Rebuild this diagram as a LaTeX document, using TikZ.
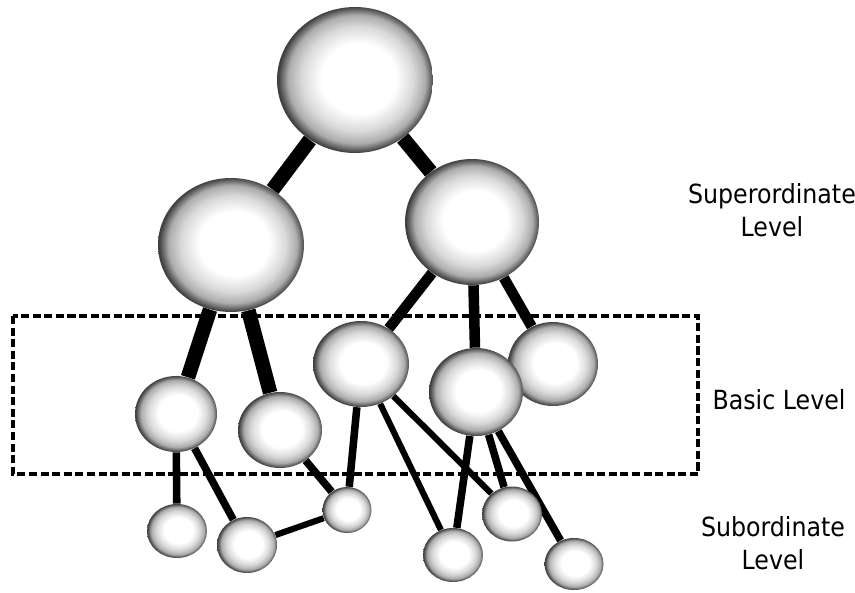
\documentclass[tikz,border=0pt]{standalone}
\usepackage{fontspec}
\setmainfont{DejaVu Sans Condensed}
\usetikzlibrary{shapes.geometric, backgrounds}

\pgfdeclareradialshading{sphere}{\pgfpoint{2bp}{1bp}}{%
  color(0bp)=(white); color(12bp)=(white); color(18bp)=(gray!30);
  color(22bp)=(gray!65); color(25bp)=(black!75); color(30bp)=(black!75)}

\begin{document}
\begin{tikzpicture}[
    x=0.02cm, y=-0.02cm,
    ball/.style={ellipse, inner sep=0pt, shading=sphere},
    heavy/.style={line width=8.3pt},
    medium/.style={line width=6pt},
    light/.style={line width=4.3pt},
    fine/.style={line width=3.5pt},
    levelbox/.style={line width=2.2pt, dash pattern=on 4.6pt off 2pt},
    levellabel/.style={align=center, font=\fontsize{15}{19}\selectfont}
]
\useasboundingbox (0,0) rectangle (855,592);

% Nodes
\node[ball, minimum width=3.12cm, minimum height=2.92cm] (top) at (355,80) {};

\node[ball, minimum width=2.92cm, minimum height=2.68cm] (lsup) at (231,245) {};
\node[ball, minimum width=2.68cm, minimum height=2.52cm] (rsup) at (472,222) {};

\node[ball, minimum width=1.64cm, minimum height=1.52cm] (b1) at (176,414) {};
\node[ball, minimum width=1.68cm, minimum height=1.52cm] (b2) at (280,430) {};
\node[ball, minimum width=1.92cm, minimum height=1.72cm] (b3) at (361,364) {};
\node[ball, minimum width=1.80cm, minimum height=1.68cm] (b5) at (553,364) {};
\node[ball, minimum width=1.88cm, minimum height=1.76cm] (b4) at (476,392) {};

\node[ball, minimum width=1.20cm, minimum height=1.08cm] (s1) at (177,531) {};
\node[ball, minimum width=1.20cm, minimum height=1.12cm] (s2) at (247,545) {};
\node[ball, minimum width=0.98cm, minimum height=0.92cm] (s3) at (347,510) {};
\node[ball, minimum width=1.20cm, minimum height=1.08cm] (s4) at (453,555) {};
\node[ball, minimum width=1.20cm, minimum height=1.10cm] (s5) at (512,514) {};
\node[ball, minimum width=1.18cm, minimum height=1.04cm] (s6) at (574,564) {};

% Level labels
\node[levellabel] (superlabel) at (772,210) {Superordinate\\Level};
\node[levellabel] (basiclabel) at (779,400) {Basic Level};
\node[levellabel] (sublabel) at (773,543) {Subordinate\\Level};

% Basic level box
\draw[levelbox] (13,316) rectangle (698,474);

% Links
\begin{pgfonlayer}{background}
\draw[heavy] (top) -- (lsup);
\draw[heavy] (top) -- (rsup);

\draw[heavy] (lsup) -- (b1);
\draw[heavy] (lsup) -- (b2);

\draw[medium] (rsup) -- (b3);
\draw[medium] (rsup) -- (b4);
\draw[medium] (rsup) -- (b5);

\draw[light] (b1) -- (s1);
\draw[light] (b1) -- (s2);
\draw[light] (b2) -- (s3);
\draw[fine] (s2) -- (s3);
\draw[light] (b3) -- (s3);
\draw[fine] (b3) -- (s4);
\draw[fine] (b3) -- (s5);

\draw[light] (b4) -- (s4);
\draw[light] (b4) -- (s5);
\draw[light] (b4) -- (s6);
\end{pgfonlayer}

\end{tikzpicture}
\end{document}
